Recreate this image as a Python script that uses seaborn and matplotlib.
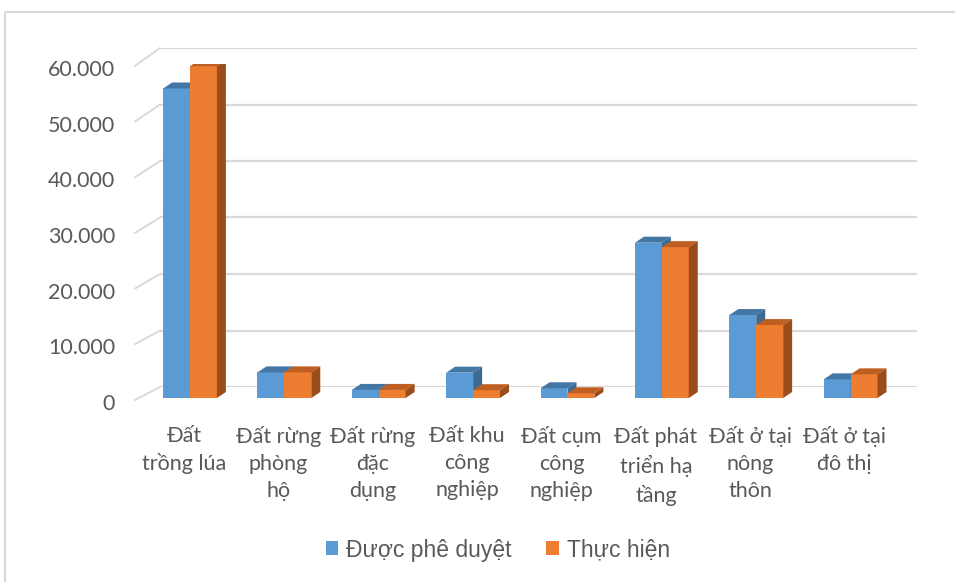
import matplotlib
matplotlib.use("Agg")
import matplotlib.pyplot as plt
from matplotlib.patches import Polygon, Patch
from matplotlib.lines import Line2D
from matplotlib.transforms import ScaledTranslation, IdentityTransform
import seaborn as sns
import pandas as pd

# Land-use categories (x axis) and the two series, in hectares
categories = [
    "Đất\ntrồng lúa",
    "Đất rừng\nphòng\nhộ",
    "Đất rừng\nđặc\ndụng",
    "Đất khu\ncông\nnghiệp",
    "Đất cụm\ncông\nnghiệp",
    "Đất phát\ntriển hạ\ntầng",
    "Đất ở tại\nnông\nthôn",
    "Đất ở tại\nđô thị",
]
series_names = ["Được phê duyệt", "Thực hiện"]
approved = [55600, 4600, 1450, 4550, 1750, 27900, 14900, 3350]
actual = [59600, 4600, 1450, 1400, 850, 27100, 13100, 4250]
y_ticks = [0, 10000, 20000, 30000, 40000, 50000, 60000]
y_tick_labels = ["0", "10.000", "20.000", "30.000", "40.000", "50.000", "60.000"]

df = pd.DataFrame({
    "cat": categories * 2,
    "series": [series_names[0]] * len(categories) + [series_names[1]] * len(categories),
    "value": approved + actual,
})

front_col = ["#5B9BD5", "#ED7D31"]
top_col = ["#4476A6", "#BE5F21"]
side_col = ["#3D6A93", "#9A4C1A"]
grid_col = "#D9D9D9"
text_col = "#595959"

sns.set_theme(style="white")
plt.rcParams["font.family"] = ["Lato", "DejaVu Sans"]

W, H = 955, 582
fig = plt.figure(figsize=(W / 100, H / 100), dpi=100)
fig.patch.set_facecolor("white")


def rect(l, t, r, b):
    return [l / W, 1 - b / H, (r - l) / W, (b - t) / H]


# back wall (gridlines) and front plane (bars, labels)
ax_back = fig.add_axes(rect(160, 48, 917, 387))
ax = fig.add_axes(rect(142.8, 64, 897.8, 398))
ax_back.set_zorder(0)
ax.set_zorder(1)
ax.patch.set_alpha(0)

ax_back.set_xlim(0, 1)
ax_back.set_ylim(0, 60000)
ax_back.set_yticks(y_ticks)
ax_back.set_xticks([])
ax_back.tick_params(left=False, labelleft=False)
ax_back.grid(axis="y", color=grid_col, linewidth=1.6)
for s in ax_back.spines.values():
    s.set_visible(False)

sns.barplot(data=df, x="cat", y="value", hue="series", hue_order=series_names,
            palette=front_col, width=0.57, saturation=1, gap=0, legend=False,
            ax=ax)
bars = [p for p in ax.patches]

ax.set_xlim(-0.5, len(categories) - 0.5)
ax.set_ylim(0, 60000)
ax.set_yticks(y_ticks)
ax.set_yticklabels(y_tick_labels)
ax.set_xlabel("")
ax.set_ylabel("")
for s in ax.spines.values():
    s.set_visible(False)
ax.tick_params(axis="y", length=0, pad=20, labelsize=15.5, labelcolor=text_col)
ax.tick_params(axis="x", length=0, pad=20, labelsize=15.5, labelcolor=text_col)
for lbl in ax.get_xticklabels():
    lbl.set_linespacing(1.45)
    lbl.set_multialignment("center")
    lbl.set_transform(lbl.get_transform() + ScaledTranslation(-0.06, 0, fig.dpi_scale_trans))
for lbl in ax.get_yticklabels():
    lbl.set_transform(lbl.get_transform() + ScaledTranslation(0, -0.04, fig.dpi_scale_trans))

# depth faces of the columns
dx, dy = 9, 6
n = len(categories)
for i, p in enumerate(bars):
    s = i // n
    x0, y0 = ax.transData.transform((p.get_x(), 0))
    x1, y1 = ax.transData.transform((p.get_x() + p.get_width(), p.get_height()))
    z = 2 + 2 * s
    p.set_zorder(z)
    p.set_edgecolor("none")
    top = Polygon([(x0, y1), (x1, y1), (x1 + dx, y1 + dy), (x0 + dx, y1 + dy)],
                  closed=True, facecolor=top_col[s], edgecolor="none",
                  transform=IdentityTransform(), zorder=z + 0.5)
    side = Polygon([(x1, y0), (x1, y1), (x1 + dx, y1 + dy), (x1 + dx, y0 + dy)],
                   closed=True, facecolor=side_col[s], edgecolor="none",
                   transform=IdentityTransform(), zorder=z + 0.5)
    ax.add_patch(top)
    ax.add_patch(side)

# slanted ticks joining the value axis to the back wall
for v in y_ticks:
    fx, fy = ax.transData.transform((-0.5, v))
    bx, by = ax_back.transData.transform((0, v))
    fig.add_artist(Line2D([fx - 8, bx], [fy - 2, by], color=grid_col, linewidth=1.4,
                          transform=IdentityTransform()))

# chart frame (top and left edges)
fig.add_artist(Line2D([5 / W, 5 / W, 1], [0, 1 - 12 / H, 1 - 12 / H],
                      color=grid_col, linewidth=1.5, transform=fig.transFigure))

handles = [Patch(facecolor=c, edgecolor="none") for c in front_col]
leg = fig.legend(handles, series_names, loc="center", bbox_to_anchor=(498 / W, 1 - 550 / H),
                 ncol=2, frameon=False, handlelength=0.55, handleheight=0.55,
                 handletextpad=0.35, columnspacing=1.5,
                 prop={"family": ["Liberation Sans"], "size": 16.5})
for t in leg.get_texts():
    t.set_color(text_col)

fig.savefig("out.png", dpi=100, facecolor="white")
